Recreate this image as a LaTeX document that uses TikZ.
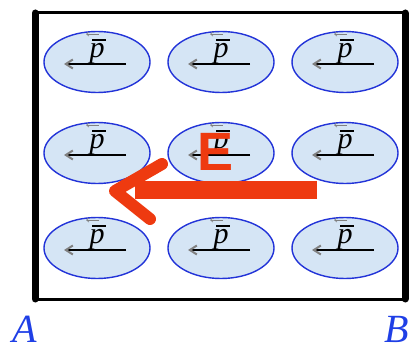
\documentclass[tikz,border=0pt]{standalone}
\usepackage{fontspec}
\usetikzlibrary{positioning,arrows.meta,shapes.geometric,calc}
\newfontfamily\efont{Liberation Sans}
\newfontfamily\labfont{Liberation Serif}
\definecolor{fieldred}{HTML}{EE3A10}
\definecolor{cellblue}{HTML}{D5E5F5}
\definecolor{rimblue}{HTML}{2233D8}
\definecolor{labblue}{HTML}{1F3FE6}

\begin{document}
\begin{tikzpicture}[x=1pt, y=-1pt,
  cell/.style={ellipse, draw=rimblue, line width=1.4pt, fill=cellblue, minimum width=106pt, minimum height=61pt, inner sep=0pt},
  pline/.style={-{Straight Barb[length=7pt, width=9pt, color=gray]}, line width=2pt},
  plabel/.style={anchor=south, inner sep=0pt, font=\labfont\itshape\fontsize{30}{30}\selectfont},
  rim/.style={line cap=round, line width=#1},
  efield/.style={fieldred, line width=#1}]
\useasboundingbox (0,0) rectangle (412,347);
% dipoles in the slab
\foreach \col/\x in {1/97,2/221,3/345} {
  \foreach \row/\y in {1/62,2/153,3/248} {
    \node[cell] (c\row\col) at (\x,\y) {};
    \coordinate (r\row\col) at ($(c\row\col)+(29,2)$);
    \coordinate (l\row\col) at ($(c\row\col)+(-33,2)$);
    \draw[pline] (r\row\col) -- (l\row\col);
    \node[plabel] (p\row\col) at ($(c\row\col)+(0,2)$) {p};
    \draw[line width=1.8pt] ($(p\row\col.north west)+(3,-3)$) -- ($(p\row\col.north east)+(1,-3)$);
    \draw[gray, line width=0.6pt, -{Straight Barb[length=2.5pt, width=4pt]}] ($(p\row\col.north)+(2,-9)$) -- ($(p\row\col.north)+(-11,-9)$);
  }
}
% slab faces
\coordinate (tl) at (35,13);
\coordinate (tr) at (405,13);
\coordinate (A) at (35,299);
\coordinate (B) at (405,299);
\draw[rim=3pt] (tl) -- (tr);
\draw[rim=3pt] (A) -- (B);
\draw[rim=7pt] (tl) -- (A);
\draw[rim=7pt] (tr) -- (B);
\node[labblue, font=\labfont\itshape\fontsize{40}{40}\selectfont, inner sep=0pt] (labA) at (25,329) {A};
\node[labblue, font=\labfont\itshape\fontsize{40}{40}\selectfont, inner sep=0pt] (labB) at (397,329) {B};
% external field
\coordinate (Etail) at (317,190);
\coordinate (Ebar) at (135,190);
\coordinate (Ehead) at (115,191);
\coordinate (Eup) at (162,164);
\coordinate (Edown) at (150,219);
\draw[efield=18pt] (Etail) -- (Ebar);
\draw[efield=12pt, line cap=round, line join=round] (Eup) -- (Ehead) -- (Edown);
\node[fieldred, font=\efont\bfseries\fontsize{54}{54}\selectfont, inner sep=0pt] (Elab) at (216,152) {E};
\end{tikzpicture}
\end{document}
